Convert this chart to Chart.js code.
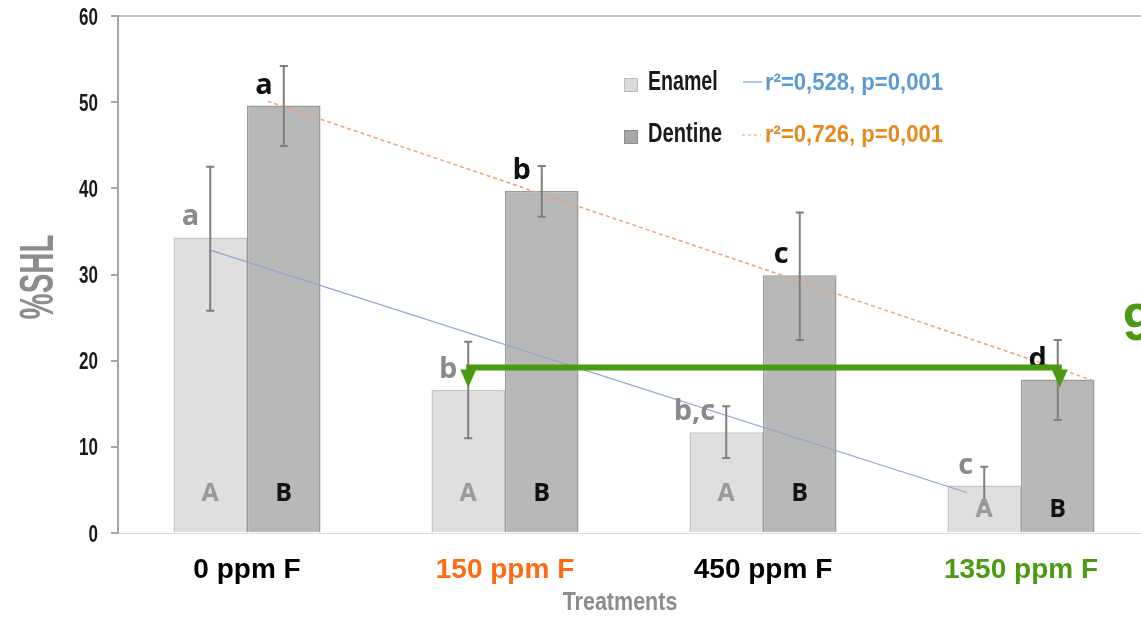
<!DOCTYPE html>
<html>
<head>
<meta charset="utf-8">
<script src="https://cdn.jsdelivr.net/npm/chart.js@4.4.1/dist/chart.umd.min.js"></script>
<style>
  html, body { margin: 0; padding: 0; background: #fff; overflow: hidden; }
  canvas { display: block; }
</style>
</head>
<body>
<canvas id="grafico" width="1150" height="619"></canvas>
<script>
// === Dados ===
const categorias = ["0 ppm F", "150 ppm F", "450 ppm F", "1350 ppm F"];
const coresCategorias = ["#000000", "#ff6a13", "#000000", "#4c9a12"];
const yTicks = [0, 10, 20, 30, 40, 50, 60];

const esmalteMedia = [34.3, 16.6, 11.7, 5.5];
const esmalteMin = [25.8, 11.0, 8.7, 3.3];
const esmalteMax = [42.5, 22.2, 14.7, 7.7];
const esmalteLetras = ["a", "b", "b,c", "c"];

const dentinaMedia = [49.6, 39.7, 29.9, 17.8];
const dentinaMin = [44.9, 36.7, 22.4, 13.1];
const dentinaMax = [54.2, 42.6, 37.2, 22.4];
const dentinaLetras = ["a", "b", "c", "d"];

// linhas de tendência (x em unidades de categoria)
const esmalteTendencia = [{ x: -0.14, y: 32.8 }, { x: 2.79, y: 4.7 }];
const dentinaTendencia = [{ x: 0.08, y: 50.1 }, { x: 3.29, y: 17.6 }];

// seta verde: nível e ponta (valores de %SHL)
const setaNivel = 19.2;
const setaPonta = 16.9;

// texto condensado (a fonte original é estreita)
function textoCondensado(ctx, texto, x, y, fonte, cor, sx, alinhamento) {
  ctx.save();
  ctx.font = fonte;
  ctx.fillStyle = cor;
  ctx.textAlign = alinhamento || "left";
  ctx.textBaseline = "alphabetic";
  ctx.translate(x, y);
  ctx.scale(sx, 1);
  ctx.fillText(texto, 0, 0);
  ctx.restore();
}

function linhaTendencia(ctx, xs, ys, pontos, cor, largura, tracejado) {
  ctx.save();
  ctx.strokeStyle = cor;
  ctx.lineWidth = largura;
  ctx.setLineDash(tracejado);
  ctx.beginPath();
  pontos.forEach((p, i) => {
    const px = xs.getPixelForValue(p.x);
    const py = ys.getPixelForValue(p.y);
    if (i === 0) ctx.moveTo(px, py); else ctx.lineTo(px, py);
  });
  ctx.stroke();
  ctx.restore();
}

const sobreposicao = {
  id: "sobreposicao",
  afterDatasetsDraw(chart) {
    const ctx = chart.ctx;
    const y = chart.scales.y;
    const x = chart.scales.x;
    const metaE = chart.getDatasetMeta(0);
    const metaD = chart.getDatasetMeta(1);

    // tendências (índice de categoria fracionário no eixo x)
    linhaTendencia(ctx, x, y, esmalteTendencia, "#8ea3d6", 1.2, []);
    linhaTendencia(ctx, x, y, dentinaTendencia, "#f0a070", 1.5, [4, 3]);

    // barras de erro
    [[metaE, esmalteMin, esmalteMax], [metaD, dentinaMin, dentinaMax]].forEach(([meta, lo, hi]) => {
      meta.data.forEach((bar, i) => {
        const yl = y.getPixelForValue(lo[i]);
        const yh = y.getPixelForValue(hi[i]);
        ctx.save();
        ctx.strokeStyle = "#7f7f7f";
        ctx.lineWidth = 2;
        ctx.beginPath();
        ctx.moveTo(bar.x, yl); ctx.lineTo(bar.x, yh);
        ctx.moveTo(bar.x - 4, yl); ctx.lineTo(bar.x + 4, yl);
        ctx.moveTo(bar.x - 4, yh); ctx.lineTo(bar.x + 4, yh);
        ctx.stroke();
        ctx.restore();
      });
    });

    // letras de significância
    ctx.save();
    ctx.font = 'bold 29px "Open Sans"';
    ctx.textAlign = "right";
    metaE.data.forEach((bar, i) => {
      ctx.fillStyle = "#8a8a8a";
      ctx.fillText(esmalteLetras[i], bar.x - 11, bar.y - 12);
    });
    metaD.data.forEach((bar, i) => {
      ctx.fillStyle = "#111";
      ctx.fillText(dentinaLetras[i], bar.x - 11, bar.y - 12);
    });

    // A / B dentro das barras
    ctx.font = 'bold 25px "Open Sans"';
    ctx.textAlign = "center";
    const zero = y.getPixelForValue(0);
    metaE.data.forEach((bar, i) => {
      const topo = Math.max(bar.y, metaD.data[i].y);
      const base = Math.max(zero - 32, topo + 31);
      ctx.fillStyle = "#9a9a9a";
      ctx.fillText("A", bar.x, base);
      ctx.fillStyle = "#111";
      ctx.fillText("B", metaD.data[i].x, base);
    });
    ctx.restore();

    // seta verde
    const yl = y.getPixelForValue(setaNivel);
    const yp = y.getPixelForValue(setaPonta);
    const x1 = metaE.data[1].x;
    const x2 = metaD.data[3].x + 2;
    ctx.save();
    ctx.strokeStyle = "#4c9a12";
    ctx.fillStyle = "#4c9a12";
    ctx.lineWidth = 6;
    ctx.beginPath();
    ctx.moveTo(x1 - 2, yl); ctx.lineTo(x2 + 2, yl);
    ctx.stroke();
    [x1, x2].forEach((xx) => {
      ctx.beginPath();
      ctx.moveTo(xx - 8, yl + 2);
      ctx.lineTo(xx + 8, yl + 2);
      ctx.lineTo(xx, yp);
      ctx.closePath();
      ctx.fill();
    });
    ctx.font = 'bold 52px "Liberation Sans"';
    ctx.fillText("9", 1123, 340);
    ctx.restore();

    // legenda
    ctx.save();
    ctx.fillStyle = "#dcdcdc"; ctx.strokeStyle = "#bdbdbd"; ctx.lineWidth = 1;
    ctx.fillRect(624, 78, 14, 14); ctx.strokeRect(624.5, 78.5, 13, 13);
    ctx.fillStyle = "#a9a9a9"; ctx.strokeStyle = "#8c8c8c";
    ctx.fillRect(624, 130, 14, 14); ctx.strokeRect(624.5, 130.5, 13, 13);
    ctx.strokeStyle = "#7fa6da"; ctx.lineWidth = 1.2;
    ctx.beginPath(); ctx.moveTo(743, 82); ctx.lineTo(762, 82); ctx.stroke();
    ctx.strokeStyle = "#f0a070"; ctx.setLineDash([3, 3]); ctx.lineWidth = 1.2;
    ctx.beginPath(); ctx.moveTo(742, 135); ctx.lineTo(761, 135); ctx.stroke();
    ctx.restore();
    textoCondensado(ctx, "Enamel", 648, 90, 'bold 28px "Liberation Sans"', "#1a1a1a", 0.7);
    textoCondensado(ctx, "Dentine", 648, 142, 'bold 28px "Liberation Sans"', "#1a1a1a", 0.72);
    textoCondensado(ctx, "r²=0,528, p=0,001", 765, 90, 'bold 24px "Liberation Sans"', "#5b9bd5", 0.92);
    textoCondensado(ctx, "r²=0,726, p=0,001", 765, 142, 'bold 24px "Liberation Sans"', "#e8891e", 0.92);

    // rótulos do eixo y
    yTicks.forEach((v) => {
      textoCondensado(ctx, String(v), 98, y.getPixelForValue(v) + 8.5, 'bold 24px "Liberation Sans"', "#1a1a1a", 0.71, "right");
    });

    // títulos dos eixos
    textoCondensado(ctx, "Treatments", 620, 610, 'bold 25px "Liberation Sans"', "#8c8c8c", 0.86, "center");
    ctx.save();
    ctx.translate(53, 277);
    ctx.rotate(-Math.PI / 2);
    textoCondensado(ctx, "%SHL", 0, 0, 'bold 49px "Liberation Sans"', "#8c8c8c", 0.6, "center");
    ctx.restore();
  }
};

const ctx = document.getElementById("grafico").getContext("2d");
new Chart(ctx, {
  type: "bar",
  data: {
    labels: categorias,
    datasets: [
      {
        label: "Enamel",
        data: esmalteMedia,
        backgroundColor: "#e0dedf",
        borderColor: "#c4c4c4",
        borderWidth: 1.5,
        categoryPercentage: 0.57,
        barPercentage: 1
      },
      {
        label: "Dentine",
        data: dentinaMedia,
        backgroundColor: "#b8b8b8",
        borderColor: "#9a9a9a",
        borderWidth: 1.5,
        categoryPercentage: 0.57,
        barPercentage: 1
      }
    ]
  },
  options: {
    responsive: false,
    animation: false,
    layout: { padding: { top: 16, left: 0, right: 0, bottom: 0 } },
    plugins: { legend: { display: false }, tooltip: { enabled: false } },
    scales: {
      x: {
        grid: { display: false },
        border: { color: "#dadada", width: 1 },
        ticks: {
          padding: 12,
          font: { family: "Liberation Sans", size: 28, weight: "bold" },
          color: (c) => coresCategorias[c.index]
        },
        afterFit: (s) => { s.height = 86; }
      },
      y: {
        min: 0,
        max: 60,
        ticks: { stepSize: 10, color: "transparent", font: { size: 14 } },
        grid: {
          color: (c) => (c.tick && c.tick.value === 60 ? "#c4c4c4" : "transparent"),
          lineWidth: 2,
          drawTicks: true,
          tickColor: "#a6a6a6",
          tickLength: 7
        },
        border: { color: "#a6a6a6", width: 2 },
        afterFit: (s) => { s.width = 118; }
      }
    }
  },
  plugins: [sobreposicao]
});
</script>
</body>
</html>
